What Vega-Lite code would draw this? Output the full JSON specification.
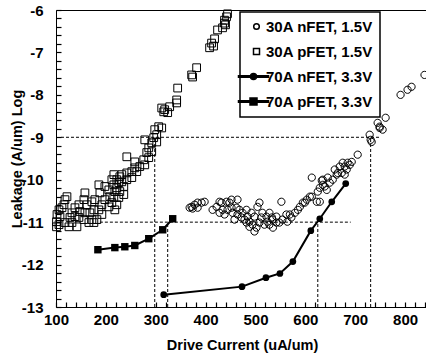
{
  "$schema": "https://vega.github.io/schema/vega-lite/v6.json",
  "width": 372,
  "height": 297,
  "autosize": "none",
  "padding": {"left": 56, "top": 10, "right": -2, "bottom": 47},
  "background": "white",
  "config": {
    "view": {"stroke": "black", "strokeWidth": 1},
    "font": "Liberation Sans",
    "axis": {
      "domainColor": "black", "tickColor": "black", "labelColor": "black", "titleColor": "black",
      "labelFont": "Liberation Sans", "titleFont": "Liberation Sans",
      "labelFontWeight": "bold", "titleFontWeight": "bold",
      "labelFontSize": 15, "titleFontSize": 14.5, "grid": false,
      "domainWidth": 1, "tickWidth": 1.2, "tickOpacity": 1, "labelFlush": false, "labelOverlap": false, "labelBound": false
    },
    "legend": {"strokeWidth": 1.5}
  },
  "datasets": {
    "refs": [
      {"x": 110, "x2": 750, "y": -9, "y2": -9},
      {"x": 188, "x2": 691, "y": -11, "y2": -11},
      {"x": 298, "x2": 298, "y": -13, "y2": -9},
      {"x": 324, "x2": 324, "y": -13, "y2": -11},
      {"x": 625, "x2": 625, "y": -13, "y2": -11},
      {"x": 731, "x2": 731, "y": -13, "y2": -9}
    ],
    "pts": [
      {"series": "70A nFET, 3.3V", "current": 316, "leakage": -12.71},
      {"series": "70A nFET, 3.3V", "current": 473, "leakage": -12.52},
      {"series": "70A nFET, 3.3V", "current": 521, "leakage": -12.31},
      {"series": "70A nFET, 3.3V", "current": 549, "leakage": -12.21},
      {"series": "70A nFET, 3.3V", "current": 575, "leakage": -11.93},
      {"series": "70A nFET, 3.3V", "current": 611, "leakage": -11.2},
      {"series": "70A nFET, 3.3V", "current": 629, "leakage": -10.92},
      {"series": "70A nFET, 3.3V", "current": 653, "leakage": -10.52},
      {"series": "70A nFET, 3.3V", "current": 681, "leakage": -10.09},
      {"series": "70A pFET, 3.3V", "current": 184, "leakage": -11.65},
      {"series": "70A pFET, 3.3V", "current": 218, "leakage": -11.6},
      {"series": "70A pFET, 3.3V", "current": 238, "leakage": -11.58},
      {"series": "70A pFET, 3.3V", "current": 258, "leakage": -11.55},
      {"series": "70A pFET, 3.3V", "current": 286, "leakage": -11.39},
      {"series": "70A pFET, 3.3V", "current": 314, "leakage": -11.18},
      {"series": "70A pFET, 3.3V", "current": 334, "leakage": -10.92},
      {"series": "30A pFET, 1.5V", "current": 316, "leakage": -8.4},
      {"series": "30A pFET, 1.5V", "current": 306, "leakage": -8.75},
      {"series": "30A pFET, 1.5V", "current": 298, "leakage": -8.82},
      {"series": "30A pFET, 1.5V", "current": 312, "leakage": -8.78},
      {"series": "30A pFET, 1.5V", "current": 302, "leakage": -8.94},
      {"series": "30A pFET, 1.5V", "current": 296, "leakage": -9.01},
      {"series": "30A pFET, 1.5V", "current": 302, "leakage": -9.11},
      {"series": "30A pFET, 1.5V", "current": 292, "leakage": -9.13},
      {"series": "30A pFET, 1.5V", "current": 286, "leakage": -9.25},
      {"series": "30A pFET, 1.5V", "current": 292, "leakage": -9.34},
      {"series": "30A pFET, 1.5V", "current": 282, "leakage": -9.36},
      {"series": "30A pFET, 1.5V", "current": 286, "leakage": -9.48},
      {"series": "30A pFET, 1.5V", "current": 276, "leakage": -9.53},
      {"series": "30A pFET, 1.5V", "current": 278, "leakage": -9.65},
      {"series": "30A pFET, 1.5V", "current": 268, "leakage": -9.69},
      {"series": "30A pFET, 1.5V", "current": 258, "leakage": -9.58},
      {"series": "30A pFET, 1.5V", "current": 242, "leakage": -9.46},
      {"series": "30A pFET, 1.5V", "current": 258, "leakage": -9.72},
      {"series": "30A pFET, 1.5V", "current": 262, "leakage": -9.81},
      {"series": "30A pFET, 1.5V", "current": 252, "leakage": -9.81},
      {"series": "30A pFET, 1.5V", "current": 242, "leakage": -9.84},
      {"series": "30A pFET, 1.5V", "current": 232, "leakage": -9.88},
      {"series": "30A pFET, 1.5V", "current": 252, "leakage": -9.95},
      {"series": "30A pFET, 1.5V", "current": 242, "leakage": -10.0},
      {"series": "30A pFET, 1.5V", "current": 232, "leakage": -10.05},
      {"series": "30A pFET, 1.5V", "current": 226, "leakage": -10.07},
      {"series": "30A pFET, 1.5V", "current": 236, "leakage": -10.16},
      {"series": "30A pFET, 1.5V", "current": 222, "leakage": -10.19},
      {"series": "30A pFET, 1.5V", "current": 216, "leakage": -10.12},
      {"series": "30A pFET, 1.5V", "current": 218, "leakage": -10.28},
      {"series": "30A pFET, 1.5V", "current": 228, "leakage": -10.28},
      {"series": "30A pFET, 1.5V", "current": 236, "leakage": -10.35},
      {"series": "30A pFET, 1.5V", "current": 226, "leakage": -10.42},
      {"series": "30A pFET, 1.5V", "current": 216, "leakage": -10.42},
      {"series": "30A pFET, 1.5V", "current": 208, "leakage": -10.4},
      {"series": "30A pFET, 1.5V", "current": 212, "leakage": -10.54},
      {"series": "30A pFET, 1.5V", "current": 222, "leakage": -10.59},
      {"series": "30A pFET, 1.5V", "current": 206, "leakage": -10.64},
      {"series": "30A pFET, 1.5V", "current": 218, "leakage": -10.71},
      {"series": "30A pFET, 1.5V", "current": 186, "leakage": -10.12},
      {"series": "30A pFET, 1.5V", "current": 188, "leakage": -10.31},
      {"series": "30A pFET, 1.5V", "current": 198, "leakage": -10.47},
      {"series": "30A pFET, 1.5V", "current": 192, "leakage": -10.59},
      {"series": "30A pFET, 1.5V", "current": 178, "leakage": -10.47},
      {"series": "30A pFET, 1.5V", "current": 172, "leakage": -10.52},
      {"series": "30A pFET, 1.5V", "current": 158, "leakage": -10.31},
      {"series": "30A pFET, 1.5V", "current": 156, "leakage": -10.47},
      {"series": "30A pFET, 1.5V", "current": 162, "leakage": -10.59},
      {"series": "30A pFET, 1.5V", "current": 146, "leakage": -10.59},
      {"series": "30A pFET, 1.5V", "current": 138, "leakage": -10.66},
      {"series": "30A pFET, 1.5V", "current": 148, "leakage": -10.75},
      {"series": "30A pFET, 1.5V", "current": 158, "leakage": -10.78},
      {"series": "30A pFET, 1.5V", "current": 168, "leakage": -10.78},
      {"series": "30A pFET, 1.5V", "current": 176, "leakage": -10.71},
      {"series": "30A pFET, 1.5V", "current": 186, "leakage": -10.71},
      {"series": "30A pFET, 1.5V", "current": 192, "leakage": -10.82},
      {"series": "30A pFET, 1.5V", "current": 182, "leakage": -10.94},
      {"series": "30A pFET, 1.5V", "current": 172, "leakage": -10.94},
      {"series": "30A pFET, 1.5V", "current": 166, "leakage": -11.01},
      {"series": "30A pFET, 1.5V", "current": 176, "leakage": -11.01},
      {"series": "30A pFET, 1.5V", "current": 156, "leakage": -10.94},
      {"series": "30A pFET, 1.5V", "current": 146, "leakage": -10.89},
      {"series": "30A pFET, 1.5V", "current": 138, "leakage": -10.87},
      {"series": "30A pFET, 1.5V", "current": 132, "leakage": -10.78},
      {"series": "30A pFET, 1.5V", "current": 128, "leakage": -10.89},
      {"series": "30A pFET, 1.5V", "current": 132, "leakage": -11.01},
      {"series": "30A pFET, 1.5V", "current": 142, "leakage": -11.11},
      {"series": "30A pFET, 1.5V", "current": 126, "leakage": -11.11},
      {"series": "30A pFET, 1.5V", "current": 118, "leakage": -10.47},
      {"series": "30A pFET, 1.5V", "current": 122, "leakage": -10.4},
      {"series": "30A pFET, 1.5V", "current": 116, "leakage": -10.59},
      {"series": "30A pFET, 1.5V", "current": 112, "leakage": -10.66},
      {"series": "30A pFET, 1.5V", "current": 106, "leakage": -10.71},
      {"series": "30A pFET, 1.5V", "current": 102, "leakage": -10.82},
      {"series": "30A pFET, 1.5V", "current": 108, "leakage": -10.87},
      {"series": "30A pFET, 1.5V", "current": 101, "leakage": -10.99},
      {"series": "30A pFET, 1.5V", "current": 101, "leakage": -11.11},
      {"series": "30A pFET, 1.5V", "current": 106, "leakage": -11.06},
      {"series": "30A pFET, 1.5V", "current": 118, "leakage": -11.01},
      {"series": "30A pFET, 1.5V", "current": 198, "leakage": -10.16},
      {"series": "30A pFET, 1.5V", "current": 206, "leakage": -10.24},
      {"series": "30A pFET, 1.5V", "current": 212, "leakage": -10.0},
      {"series": "30A pFET, 1.5V", "current": 222, "leakage": -10.0},
      {"series": "30A pFET, 1.5V", "current": 228, "leakage": -9.93},
      {"series": "30A pFET, 1.5V", "current": 216, "leakage": -9.88},
      {"series": "30A pFET, 1.5V", "current": 318, "leakage": -8.35},
      {"series": "30A pFET, 1.5V", "current": 324, "leakage": -8.42},
      {"series": "30A pFET, 1.5V", "current": 312, "leakage": -8.31},
      {"series": "30A pFET, 1.5V", "current": 328, "leakage": -8.28},
      {"series": "30A pFET, 1.5V", "current": 342, "leakage": -8.19},
      {"series": "30A pFET, 1.5V", "current": 342, "leakage": -8.12},
      {"series": "30A pFET, 1.5V", "current": 344, "leakage": -7.84},
      {"series": "30A pFET, 1.5V", "current": 372, "leakage": -7.53},
      {"series": "30A pFET, 1.5V", "current": 374, "leakage": -7.58},
      {"series": "30A pFET, 1.5V", "current": 382, "leakage": -7.36},
      {"series": "30A pFET, 1.5V", "current": 408, "leakage": -6.89},
      {"series": "30A pFET, 1.5V", "current": 412, "leakage": -6.78},
      {"series": "30A pFET, 1.5V", "current": 416, "leakage": -6.85},
      {"series": "30A pFET, 1.5V", "current": 418, "leakage": -6.68},
      {"series": "30A pFET, 1.5V", "current": 424, "leakage": -6.47},
      {"series": "30A pFET, 1.5V", "current": 434, "leakage": -6.42},
      {"series": "30A pFET, 1.5V", "current": 438, "leakage": -6.31},
      {"series": "30A pFET, 1.5V", "current": 438, "leakage": -6.24},
      {"series": "30A pFET, 1.5V", "current": 442, "leakage": -6.16},
      {"series": "30A pFET, 1.5V", "current": 444, "leakage": -6.09},
      {"series": "30A pFET, 1.5V", "current": 440, "leakage": -6.35},
      {"series": "30A pFET, 1.5V", "current": 278, "leakage": -9.06},
      {"series": "30A nFET, 1.5V", "current": 372, "leakage": -10.64},
      {"series": "30A nFET, 1.5V", "current": 378, "leakage": -10.59},
      {"series": "30A nFET, 1.5V", "current": 384, "leakage": -10.54},
      {"series": "30A nFET, 1.5V", "current": 392, "leakage": -10.54},
      {"series": "30A nFET, 1.5V", "current": 398, "leakage": -10.52},
      {"series": "30A nFET, 1.5V", "current": 374, "leakage": -10.68},
      {"series": "30A nFET, 1.5V", "current": 384, "leakage": -10.66},
      {"series": "30A nFET, 1.5V", "current": 368, "leakage": -10.66},
      {"series": "30A nFET, 1.5V", "current": 414, "leakage": -10.71},
      {"series": "30A nFET, 1.5V", "current": 422, "leakage": -10.64},
      {"series": "30A nFET, 1.5V", "current": 432, "leakage": -10.54},
      {"series": "30A nFET, 1.5V", "current": 442, "leakage": -10.52},
      {"series": "30A nFET, 1.5V", "current": 448, "leakage": -10.54},
      {"series": "30A nFET, 1.5V", "current": 434, "leakage": -10.71},
      {"series": "30A nFET, 1.5V", "current": 444, "leakage": -10.71},
      {"series": "30A nFET, 1.5V", "current": 452, "leakage": -10.66},
      {"series": "30A nFET, 1.5V", "current": 428, "leakage": -10.78},
      {"series": "30A nFET, 1.5V", "current": 438, "leakage": -10.82},
      {"series": "30A nFET, 1.5V", "current": 454, "leakage": -10.78},
      {"series": "30A nFET, 1.5V", "current": 462, "leakage": -10.66},
      {"series": "30A nFET, 1.5V", "current": 468, "leakage": -10.71},
      {"series": "30A nFET, 1.5V", "current": 464, "leakage": -10.82},
      {"series": "30A nFET, 1.5V", "current": 474, "leakage": -10.78},
      {"series": "30A nFET, 1.5V", "current": 482, "leakage": -10.71},
      {"series": "30A nFET, 1.5V", "current": 472, "leakage": -10.89},
      {"series": "30A nFET, 1.5V", "current": 484, "leakage": -10.87},
      {"series": "30A nFET, 1.5V", "current": 492, "leakage": -10.78},
      {"series": "30A nFET, 1.5V", "current": 498, "leakage": -10.87},
      {"series": "30A nFET, 1.5V", "current": 488, "leakage": -10.99},
      {"series": "30A nFET, 1.5V", "current": 482, "leakage": -11.01},
      {"series": "30A nFET, 1.5V", "current": 494, "leakage": -11.06},
      {"series": "30A nFET, 1.5V", "current": 502, "leakage": -11.13},
      {"series": "30A nFET, 1.5V", "current": 508, "leakage": -11.01},
      {"series": "30A nFET, 1.5V", "current": 512, "leakage": -10.89},
      {"series": "30A nFET, 1.5V", "current": 504, "leakage": -10.64},
      {"series": "30A nFET, 1.5V", "current": 514, "leakage": -10.78},
      {"series": "30A nFET, 1.5V", "current": 522, "leakage": -10.87},
      {"series": "30A nFET, 1.5V", "current": 524, "leakage": -10.99},
      {"series": "30A nFET, 1.5V", "current": 518, "leakage": -11.06},
      {"series": "30A nFET, 1.5V", "current": 528, "leakage": -11.06},
      {"series": "30A nFET, 1.5V", "current": 534, "leakage": -10.94},
      {"series": "30A nFET, 1.5V", "current": 542, "leakage": -10.87},
      {"series": "30A nFET, 1.5V", "current": 542, "leakage": -11.01},
      {"series": "30A nFET, 1.5V", "current": 528, "leakage": -10.78},
      {"series": "30A nFET, 1.5V", "current": 508, "leakage": -10.54},
      {"series": "30A nFET, 1.5V", "current": 498, "leakage": -11.22},
      {"series": "30A nFET, 1.5V", "current": 488, "leakage": -11.11},
      {"series": "30A nFET, 1.5V", "current": 478, "leakage": -10.94},
      {"series": "30A nFET, 1.5V", "current": 458, "leakage": -10.94},
      {"series": "30A nFET, 1.5V", "current": 464, "leakage": -10.47},
      {"series": "30A nFET, 1.5V", "current": 452, "leakage": -10.47},
      {"series": "30A nFET, 1.5V", "current": 428, "leakage": -10.52},
      {"series": "30A nFET, 1.5V", "current": 548, "leakage": -11.01},
      {"series": "30A nFET, 1.5V", "current": 554, "leakage": -10.94},
      {"series": "30A nFET, 1.5V", "current": 552, "leakage": -10.52},
      {"series": "30A nFET, 1.5V", "current": 562, "leakage": -10.82},
      {"series": "30A nFET, 1.5V", "current": 564, "leakage": -10.99},
      {"series": "30A nFET, 1.5V", "current": 572, "leakage": -10.89},
      {"series": "30A nFET, 1.5V", "current": 579, "leakage": -10.78},
      {"series": "30A nFET, 1.5V", "current": 585, "leakage": -10.71},
      {"series": "30A nFET, 1.5V", "current": 589, "leakage": -10.64},
      {"series": "30A nFET, 1.5V", "current": 595, "leakage": -10.54},
      {"series": "30A nFET, 1.5V", "current": 603, "leakage": -10.47},
      {"series": "30A nFET, 1.5V", "current": 609, "leakage": -10.4},
      {"series": "30A nFET, 1.5V", "current": 613, "leakage": -9.95},
      {"series": "30A nFET, 1.5V", "current": 623, "leakage": -10.52},
      {"series": "30A nFET, 1.5V", "current": 625, "leakage": -10.28},
      {"series": "30A nFET, 1.5V", "current": 629, "leakage": -10.19},
      {"series": "30A nFET, 1.5V", "current": 635, "leakage": -10.12},
      {"series": "30A nFET, 1.5V", "current": 643, "leakage": -10.24},
      {"series": "30A nFET, 1.5V", "current": 649, "leakage": -10.07},
      {"series": "30A nFET, 1.5V", "current": 655, "leakage": -10.0},
      {"series": "30A nFET, 1.5V", "current": 659, "leakage": -9.76},
      {"series": "30A nFET, 1.5V", "current": 669, "leakage": -9.69},
      {"series": "30A nFET, 1.5V", "current": 675, "leakage": -9.6},
      {"series": "30A nFET, 1.5V", "current": 683, "leakage": -9.76},
      {"series": "30A nFET, 1.5V", "current": 689, "leakage": -9.65},
      {"series": "30A nFET, 1.5V", "current": 693, "leakage": -9.58},
      {"series": "30A nFET, 1.5V", "current": 635, "leakage": -10.0},
      {"series": "30A nFET, 1.5V", "current": 645, "leakage": -9.95},
      {"series": "30A nFET, 1.5V", "current": 663, "leakage": -9.88},
      {"series": "30A nFET, 1.5V", "current": 673, "leakage": -9.84},
      {"series": "30A nFET, 1.5V", "current": 679, "leakage": -9.88},
      {"series": "30A nFET, 1.5V", "current": 705, "leakage": -9.41},
      {"series": "30A nFET, 1.5V", "current": 685, "leakage": -9.6},
      {"series": "30A nFET, 1.5V", "current": 679, "leakage": -9.69},
      {"series": "30A nFET, 1.5V", "current": 665, "leakage": -9.84},
      {"series": "30A nFET, 1.5V", "current": 633, "leakage": -10.02},
      {"series": "30A nFET, 1.5V", "current": 639, "leakage": -10.16},
      {"series": "30A nFET, 1.5V", "current": 629, "leakage": -10.52},
      {"series": "30A nFET, 1.5V", "current": 613, "leakage": -10.4},
      {"series": "30A nFET, 1.5V", "current": 599, "leakage": -10.54},
      {"series": "30A nFET, 1.5V", "current": 569, "leakage": -10.82},
      {"series": "30A nFET, 1.5V", "current": 533, "leakage": -10.89},
      {"series": "30A nFET, 1.5V", "current": 535, "leakage": -11.13},
      {"series": "30A nFET, 1.5V", "current": 729, "leakage": -8.94},
      {"series": "30A nFET, 1.5V", "current": 733, "leakage": -9.11},
      {"series": "30A nFET, 1.5V", "current": 731, "leakage": -9.06},
      {"series": "30A nFET, 1.5V", "current": 745, "leakage": -8.66},
      {"series": "30A nFET, 1.5V", "current": 749, "leakage": -8.75},
      {"series": "30A nFET, 1.5V", "current": 755, "leakage": -8.82},
      {"series": "30A nFET, 1.5V", "current": 761, "leakage": -8.54},
      {"series": "30A nFET, 1.5V", "current": 749, "leakage": -8.78},
      {"series": "30A nFET, 1.5V", "current": 791, "leakage": -8.0},
      {"series": "30A nFET, 1.5V", "current": 805, "leakage": -7.88},
      {"series": "30A nFET, 1.5V", "current": 813, "leakage": -7.81},
      {"series": "30A nFET, 1.5V", "current": 839, "leakage": -7.53}
    ]
  },
  "encoding": {
    "x": {"type": "quantitative", "scale": {"domain": [100, 846], "nice": false, "zero": false},
          "axis": {"orient": "bottom",
                   "values": [100, 120, 140, 160, 180, 200, 220, 240, 260, 280, 300, 320, 340, 360, 380, 400, 420, 440, 460, 480, 500, 520, 540, 560, 580, 600, 620, 640, 660, 680, 700, 720, 740, 760, 780, 800, 820, 840],
                   "labelExpr": "datum.value % 100 === 0 ? datum.value + '' : ''",
                   "ticks": true, "tickSize": 5, "offset": -5, "domain": false,
                   "labelPadding": 5, "title": "Drive Current (uA/um)", "titlePadding": 11}},
    "y": {"type": "quantitative", "scale": {"domain": [-13, -6], "nice": false, "zero": false},
          "axis": {"orient": "left",
                   "values": [-13, -12.8, -12.6, -12.4, -12.2, -12, -11.8, -11.6, -11.4, -11.2, -11, -10.8, -10.6, -10.4, -10.2, -10, -9.8, -9.6, -9.4, -9.2, -9, -8.8, -8.6, -8.4, -8.2, -8, -7.8, -7.6, -7.4, -7.2, -7, -6.8, -6.6, -6.4, -6.2, -6],
                   "labelExpr": "datum.value % 1 === 0 ? datum.value + '' : ''",
                   "ticks": true, "tickSize": 5, "offset": -5, "domain": false,
                   "labelPadding": 13, "title": "Leakage (A/um) Log", "titlePadding": -3}}
  },
  "layer": [
    {
      "data": {"name": "refs"},
      "mark": {"type": "rule", "color": "black", "strokeWidth": 1, "strokeDash": [3, 2]},
      "encoding": {
        "x": {"field": "x", "type": "quantitative"},
        "x2": {"field": "x2"},
        "y": {"field": "y", "type": "quantitative"},
        "y2": {"field": "y2"}
      }
    },
    {
      "data": {"name": "pts"},
      "transform": [{"filter": "indexof(datum.series, '30A') === 0"}],
      "mark": {"type": "point", "stroke": "black", "strokeWidth": 1, "opacity": 1, "size": 166, "clip": false},
      "encoding": {
        "x": {"field": "current", "type": "quantitative"},
        "y": {"field": "leakage", "type": "quantitative"},
        "shape": {"field": "series", "type": "nominal",
                  "scale": {"domain": ["30A nFET, 1.5V", "30A pFET, 1.5V", "70A nFET, 3.3V", "70A pFET, 3.3V"],
                            "range": ["M0.56,0A0.56,0.56,0,1,1,-0.56,0A0.56,0.56,0,1,1,0.56,0Z",
                                      "M-0.6,-0.6H0.6V0.6H-0.6Z",
                                      "M-3.6,-0.15H2.4V0.15H-3.6Z M0,0A0.6,0.6,0,1,1,-1.2,0A0.6,0.6,0,1,1,0,0Z",
                                      "M-3.6,-0.15H2.4V0.15H-3.6Z M-1.3,-0.7H0.1V0.7H-1.3Z"]},
                  "legend": {"orient": "none", "legendX": 184, "legendY": 2, "title": null, "padding": 7,
                             "symbolOffset": 2, "labelOffset": 2, "rowPadding": 9, "symbolSize": 100,
                             "strokeColor": "black", "fillColor": "white", "labelFontSize": 15, "labelFontWeight": "bold",
                             "labelFont": "Liberation Sans", "labelColor": "black", "labelLimit": 300}},
        "fill": {"field": "series", "type": "nominal",
                 "scale": {"domain": ["30A nFET, 1.5V", "30A pFET, 1.5V", "70A nFET, 3.3V", "70A pFET, 3.3V"],
                           "range": ["transparent", "transparent", "black", "black"]},
                 "legend": {"orient": "none", "legendX": 184, "legendY": 2, "title": null, "padding": 7,
                            "symbolOffset": 2, "labelOffset": 2, "rowPadding": 9, "symbolSize": 100,
                            "strokeColor": "black", "fillColor": "white", "labelFontSize": 15, "labelFontWeight": "bold",
                            "labelFont": "Liberation Sans", "labelColor": "black", "labelLimit": 300}}
      }
    },
    {
      "data": {"name": "pts"},
      "transform": [{"filter": "indexof(datum.series, '70A') === 0"}],
      "mark": {"type": "line", "color": "black", "strokeWidth": 2},
      "encoding": {
        "x": {"field": "current", "type": "quantitative"},
        "y": {"field": "leakage", "type": "quantitative"},
        "detail": {"field": "series", "type": "nominal"}
      }
    },
    {
      "data": {"name": "pts"},
      "transform": [{"filter": "datum.series === '70A nFET, 3.3V'"}],
      "mark": {"type": "point", "shape": "circle", "filled": true, "color": "black", "opacity": 1, "size": 45},
      "encoding": {
        "x": {"field": "current", "type": "quantitative"},
        "y": {"field": "leakage", "type": "quantitative"}
      }
    },
    {
      "data": {"name": "pts"},
      "transform": [{"filter": "datum.series === '70A pFET, 3.3V'"}],
      "mark": {"type": "point", "shape": "square", "filled": true, "color": "black", "opacity": 1, "size": 55},
      "encoding": {
        "x": {"field": "current", "type": "quantitative"},
        "y": {"field": "leakage", "type": "quantitative"}
      }
    }
  ]
}
